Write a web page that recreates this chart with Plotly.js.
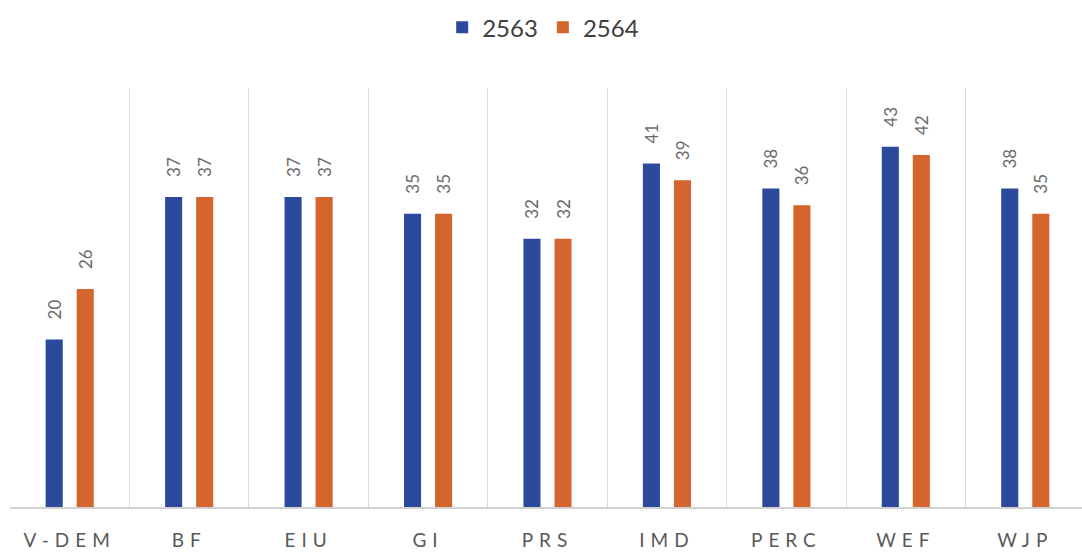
<!DOCTYPE html>
<html><head><meta charset="utf-8">
<script src="https://cdn.plot.ly/plotly-3.0.1.min.js"></script>
<style>
html,body{margin:0;padding:0;background:#fff;overflow:hidden;}
#chart{width:1082px;height:553px;overflow:hidden;}
.xtick text{letter-spacing:6px;}
</style></head>
<body><div id="chart"></div>
<script>
const categories = ['V-DEM','BF','EIU','GI','PRS','IMD','PERC','WEF','WJP'];
const series2563 = [20,37,37,35,32,41,38,43,38];
const series2564 = [26,37,37,35,32,39,36,42,35];
const seriesNames = ['2563','2564'];

const pad = '\u2002\u2002';
const labelFont = {family:'Lato, "Open Sans", sans-serif', size:17, color:'#6b6b6b'};
const traces = [
  {type:'bar', name:seriesNames[0], x:categories, y:series2563, marker:{color:'#2C4A9B'},
   text:series2563.map(v => pad + v), textposition:'outside', textangle:-90, constraintext:'none',
   textfont:labelFont, cliponaxis:false, hoverinfo:'x+y'},
  {type:'bar', name:seriesNames[1], x:categories, y:series2564, marker:{color:'#D5652E'},
   text:series2564.map(v => pad + v), textposition:'outside', textangle:-90, constraintext:'none',
   textfont:labelFont, cliponaxis:false, hoverinfo:'x+y'}
];
const layout = {
  width:1085, height:553,
  margin:{l:10, r:0, t:88, b:46, autoexpand:false},
  paper_bgcolor:'#fff', plot_bgcolor:'#fff',
  barmode:'group', bargap:0.48, bargroupgap:0.45,
  font:{family:'Lato, "Open Sans", sans-serif', color:'#595959'},
  showlegend:true,
  legend:{orientation:'h', x:0.496, xanchor:'center', yref:'container', y:0.95, yanchor:'middle',
          font:{size:24, color:'#404040'}, itemwidth:30, traceorder:'normal'},
  xaxis:{type:'category', tickson:'boundaries', showgrid:true, gridcolor:'#d9d9d9', gridwidth:1,
         showline:true, linecolor:'#d0d0d0', linewidth:1.5, ticks:'', tickfont:{size:19, color:'#595959'},
         ticklen:0, ticklabelstandoff:16, fixedrange:true},
  yaxis:{range:[0,50], showgrid:false, showticklabels:false, zeroline:false, showline:false, ticks:'', fixedrange:true}
};
Plotly.newPlot('chart', traces, layout, {displayModeBar:false, staticPlot:true});
</script></body></html>
